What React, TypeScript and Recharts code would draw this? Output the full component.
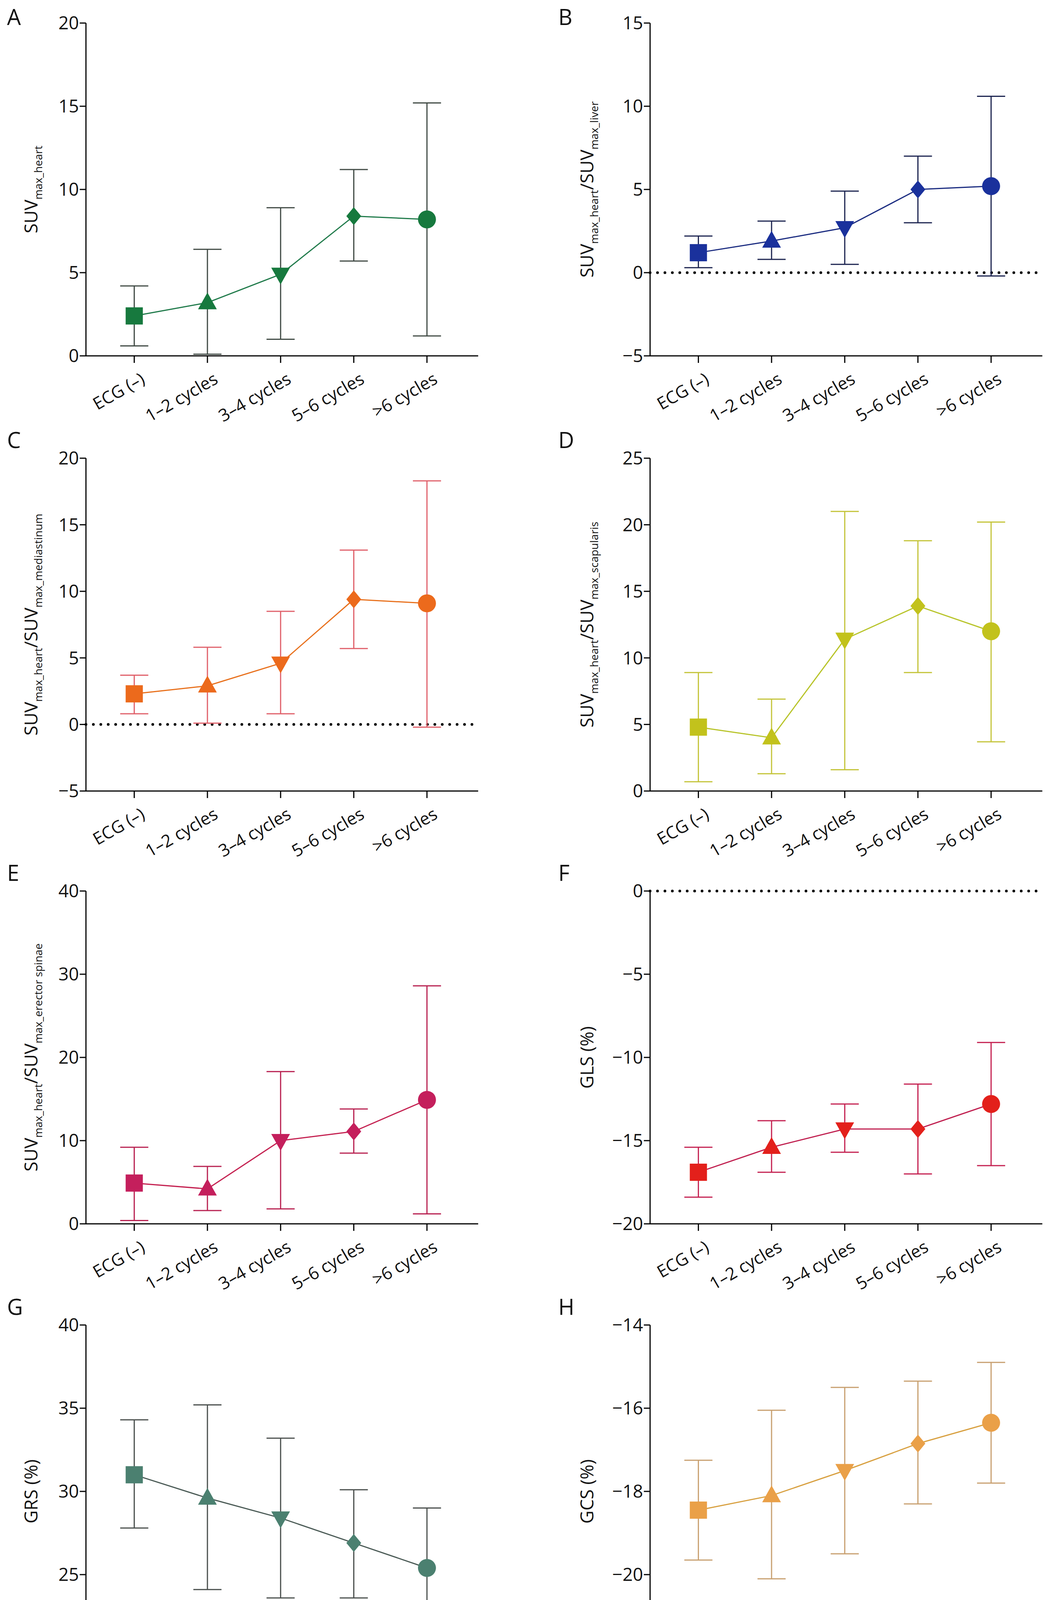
import React from "react";
import { ComposedChart, Line, XAxis, YAxis, ErrorBar, ReferenceLine } from "recharts";

const categories = ["ECG (–)", "1–2 cycles", "3–4 cycles", "5–6 cycles", ">6 cycles"];

const meanA = [2.4, 3.2, 4.9, 8.4, 8.2];
const lowA = [0.6, 0.1, 1.0, 5.7, 1.2];
const highA = [4.2, 6.4, 8.9, 11.2, 15.2];

const meanB = [1.2, 1.9, 2.7, 5.0, 5.2];
const lowB = [0.3, 0.8, 0.5, 3.0, -0.2];
const highB = [2.2, 3.1, 4.9, 7.0, 10.6];

const meanC = [2.3, 2.9, 4.6, 9.4, 9.1];
const lowC = [0.8, 0.1, 0.8, 5.7, -0.2];
const highC = [3.7, 5.8, 8.5, 13.1, 18.3];

const meanD = [4.8, 4.0, 11.4, 13.9, 12.0];
const lowD = [0.7, 1.3, 1.6, 8.9, 3.7];
const highD = [8.9, 6.9, 21.0, 18.8, 20.2];

const meanE = [4.9, 4.2, 10.0, 11.1, 14.9];
const lowE = [0.4, 1.6, 1.8, 8.5, 1.2];
const highE = [9.2, 6.9, 18.3, 13.8, 28.6];

const meanF = [-16.9, -15.4, -14.3, -14.3, -12.8];
const lowF = [-18.4, -16.9, -15.7, -17.0, -16.5];
const highF = [-15.4, -13.8, -12.8, -11.6, -9.1];

const meanG = [31.0, 29.6, 28.4, 26.9, 25.4];
const lowG = [27.8, 24.1, 23.6, 23.6, 21.8];
const highG = [34.3, 35.2, 33.2, 30.1, 29.0];

const meanH = [-18.45, -18.1, -17.5, -16.85, -16.35];
const lowH = [-19.65, -20.1, -19.5, -18.3, -17.8];
const highH = [-17.25, -16.05, -15.5, -15.35, -14.9];

const FONT = "'Open Sans', 'Noto Sans', sans-serif";

type Panel = {
  letter: string;
  mean: number[];
  low: number[];
  high: number[];
  domain: [number, number];
  ticks: number[];
  color: string;
  line: string;
  err: string;
  label: string[];
  zero?: boolean;
};

const panels: Panel[] = [
  { letter: "A", mean: meanA, low: lowA, high: highA, domain: [0, 20], ticks: [0, 5, 10, 15, 20], color: "#17793e", line: "#1f7a4a", err: "#404a44", label: ["SUV", "max_heart"] },
  { letter: "B", mean: meanB, low: lowB, high: highB, domain: [-5, 15], ticks: [-5, 0, 5, 10, 15], color: "#1a319c", line: "#1a2b80", err: "#1c2450", label: ["SUV", "max_heart", "/SUV", "max_liver"], zero: true },
  { letter: "C", mean: meanC, low: lowC, high: highC, domain: [-5, 20], ticks: [-5, 0, 5, 10, 15, 20], color: "#ec6a1c", line: "#e8701c", err: "#e0606a", label: ["SUV", "max_heart", "/SUV", "max_mediastinum"], zero: true },
  { letter: "D", mean: meanD, low: lowD, high: highD, domain: [0, 25], ticks: [0, 5, 10, 15, 20, 25], color: "#c2c21c", line: "#b8c42a", err: "#c4c43a", label: ["SUV", "max_heart", "/SUV", "max_scapularis"] },
  { letter: "E", mean: meanE, low: lowE, high: highE, domain: [0, 40], ticks: [0, 10, 20, 30, 40], color: "#c41f5c", line: "#c42050", err: "#b82050", label: ["SUV", "max_heart", "/SUV", "max_erector spinae"] },
  { letter: "F", mean: meanF, low: lowF, high: highF, domain: [-20, 0], ticks: [-20, -15, -10, -5, 0], color: "#e3201b", line: "#c02050", err: "#c42050", label: ["GLS (%)"], zero: true },
  { letter: "G", mean: meanG, low: lowG, high: highG, domain: [20, 40], ticks: [20, 25, 30, 35, 40], color: "#4b8070", line: "#4a5a55", err: "#4a4f4d", label: ["GRS (%)"] },
  { letter: "H", mean: meanH, low: lowH, high: highH, domain: [-22, -14], ticks: [-22, -20, -18, -16, -14], color: "#eaa048", line: "#d8a040", err: "#c8a070", label: ["GCS (%)"] },
];

const rowTops = [59, 1173, 2281, 3392];
const PLOT_H = 852;
const CHART_W = 1351;
const CHART_H = 1100;
const TOP = 50;

const Marker = (props: any) => {
  const { cx, cy, index, fill } = props;
  if (cx == null || cy == null) return null;
  const s = 22;
  if (index === 0) return <rect x={cx - s} y={cy - s} width={2 * s} height={2 * s} fill={fill} />;
  if (index === 1) return <polygon points={`${cx},${cy - 26} ${cx - 24},${cy + 17} ${cx + 24},${cy + 17}`} fill={fill} />;
  if (index === 2) return <polygon points={`${cx},${cy + 26} ${cx - 24},${cy - 17} ${cx + 24},${cy - 17}`} fill={fill} />;
  if (index === 3) return <polygon points={`${cx},${cy - 23} ${cx + 19},${cy} ${cx},${cy + 23} ${cx - 19},${cy}`} fill={fill} />;
  return <circle cx={cx} cy={cy} r={23} fill={fill} />;
};

const XTick = (props: any) => {
  const { x, y, payload } = props;
  const i = Math.round(payload.value);
  if (i < 0 || i > 4) return null;
  return (
    <text x={x + 30} y={y + 48} textAnchor="end" fontSize={44} fontFamily={FONT} fill="#111" transform={`rotate(-30 ${x + 30} ${y + 48})`}>
      {categories[i]}
    </text>
  );
};

const YLabel = ({ parts, x, y }: { parts: string[]; x: number; y: number }) => (
  <text x={x} y={y} transform={`rotate(-90 ${x} ${y})`} textAnchor="middle" fontFamily={FONT} fontSize={46} fill="#111">
    {parts.map((p, k) =>
      k % 2 === 1 ? (
        <tspan key={k} fontSize={28} dy={12}>{p}</tspan>
      ) : (
        <tspan key={k} dy={k === 0 ? 0 : -12}>{p}</tspan>
      )
    )}
  </text>
);

const PanelChart = ({ p, left }: { p: Panel; left: number }) => {
  const data = p.mean.map((m, i) => ({ x: i, y: m, e: [m - p.low[i], p.high[i] - m] }));
  return (
    <ComposedChart width={CHART_W} height={CHART_H} data={data} margin={{ top: TOP, right: CHART_W - left - 1004, bottom: 0, left: 0 }}>
      <XAxis dataKey="x" type="number" domain={[-0.66, 4.7]} ticks={[0, 1, 2, 3, 4]} tick={<XTick />} axisLine={{ stroke: "#000", strokeWidth: 3 }} tickLine={{ stroke: "#000", strokeWidth: 3 }} tickSize={18} height={CHART_H - TOP - PLOT_H} allowDataOverflow />
      <YAxis type="number" domain={p.domain} ticks={p.ticks} width={left} axisLine={{ stroke: "#000", strokeWidth: 3 }} tickLine={{ stroke: "#000", strokeWidth: 3 }} tickSize={16} tick={{ fontSize: 46, fontFamily: FONT, fill: "#111" }} tickFormatter={(v: number) => String(v).replace("-", "−")} allowDataOverflow />
      {p.zero && <ReferenceLine y={0} stroke="#000" strokeWidth={7} strokeDasharray="0 19" strokeLinecap="round" />}
      <Line dataKey="y" stroke={p.line} strokeWidth={3} isAnimationActive={false} dot={<Marker fill={p.color} />} activeDot={false}>
        <ErrorBar dataKey="e" width={36} stroke={p.err} strokeWidth={3} direction="y" />
      </Line>
    </ComposedChart>
  );
};

export default function App() {
  return (
    <div style={{ position: "relative", width: 2703, height: 4410, margin: -8, background: "#fff", fontFamily: FONT, overflow: "hidden" }}>
      {panels.map((p, k) => {
        const col = k % 2;
        const row = Math.floor(k / 2);
        const left = col === 0 ? 220 : 313;
        const top = rowTops[row] - TOP;
        const labelX = col === 0 ? 96 : 168;
        return (
          <div key={p.letter} style={{ position: "absolute", left: col * 1351, top, width: CHART_W, height: CHART_H }}>
            <PanelChart p={p} left={left} />
            <svg width={300} height={CHART_H} style={{ position: "absolute", left: 0, top: 0 }}>
              <YLabel parts={p.label} x={labelX} y={TOP + PLOT_H / 2} />
            </svg>
          </div>
        );
      })}
      {panels.map((p, k) => {
        const col = k % 2;
        const row = Math.floor(k / 2);
        const top = Math.max(10, rowTops[row] - 80);
        return (
          <div key={"l" + p.letter} style={{ position: "absolute", left: col === 0 ? 18 : 1351 + 78, top, fontSize: 56, lineHeight: "64px", color: "#111" }}>{p.letter}</div>
        );
      })}
    </div>
  );
}
